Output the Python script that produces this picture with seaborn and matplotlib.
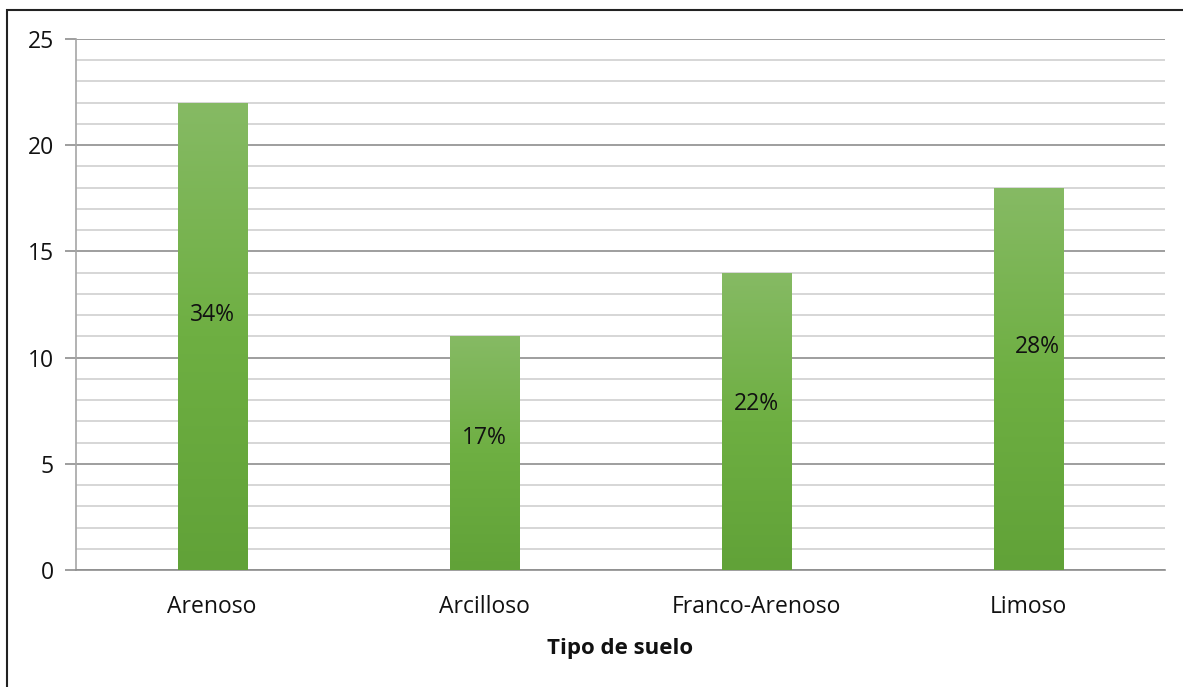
import numpy as np
import pandas as pd
import matplotlib
matplotlib.use("Agg")
import matplotlib.pyplot as plt
from matplotlib.patches import Rectangle
from matplotlib.colors import LinearSegmentedColormap
from matplotlib.ticker import MultipleLocator
import seaborn as sns

# Soil type counts and their share labels
categories = ["Arenoso", "Arcilloso", "Franco-Arenoso", "Limoso"]
counts = [22, 11, 14, 18]
share_labels = ["34%", "17%", "22%", "28%"]
label_heights = [12.0, 6.2, 7.8, 10.5]
label_offsets = [0.0, 0.0, 0.0, 0.03]

sns.set_theme(style="white")
plt.rcParams["font.family"] = ["Open Sans", "DejaVu Sans"]

fig = plt.figure(figsize=(11.83, 6.87), dpi=100)
ax = fig.add_axes([76 / 1183, 1 - 570 / 687, (1165 - 76) / 1183, (570 - 39) / 687])

df = pd.DataFrame({"tipo": categories, "n": counts})
sns.barplot(data=df, x="tipo", y="n", ax=ax, width=0.254, color="#6fae45",
            saturation=1, edgecolor="none", zorder=3)

# vertical green gradient inside each bar
cmap = LinearSegmentedColormap.from_list("g", ["#61a238", "#6eaf42", "#86ba64"])
grad = np.linspace(0, 1, 256).reshape(-1, 1)
for p in ax.patches:
    x0, y0 = p.get_x(), p.get_y()
    w, h = p.get_width(), p.get_height()
    im = ax.imshow(grad, cmap=cmap, aspect="auto", origin="lower",
                   extent=[x0, x0 + w, y0, y0 + h], zorder=4)
    im.set_clip_path(p)

for i, (lab, yv, dx) in enumerate(zip(share_labels, label_heights, label_offsets)):
    ax.text(i + dx, yv, lab, ha="center", va="center", fontsize=16.5,
            color="#111111", zorder=6)

ax.set_xlim(-0.5, 3.5)
ax.set_ylim(0, 25)
ax.yaxis.set_major_locator(MultipleLocator(5))
ax.yaxis.set_minor_locator(MultipleLocator(1))
ax.grid(axis="y", which="minor", color="#d0d0d0", linewidth=1.2, zorder=0)
ax.grid(axis="y", which="major", color="#8e8e8e", linewidth=1.2, zorder=1)
ax.set_axisbelow(True)

for s in ["top", "right"]:
    ax.spines[s].set_visible(False)
ax.spines["left"].set_color("#a6a6a6")
ax.spines["bottom"].set_color("#8e8e8e")
ax.spines["left"].set_linewidth(1.2)
ax.spines["bottom"].set_linewidth(1.2)

ax.tick_params(axis="y", which="major", length=8, width=1.2, color="#8e8e8e",
               labelsize=16.5, pad=8, left=True)
ax.tick_params(axis="y", which="minor", length=0)
ax.tick_params(axis="x", length=0, labelsize=16.5, pad=18)
for t in ax.get_yticklabels() + ax.get_xticklabels():
    t.set_color("#111111")

ax.set_ylabel("")
ax.set_xlabel("Tipo de suelo", fontsize=16, fontweight="bold", color="#111111",
              labelpad=14)

# outer frame of the chart
fig.patches.append(Rectangle((7 / 1183, -0.05), 1.2, 1 - 10 / 687 + 0.05,
                             transform=fig.transFigure, fill=False,
                             edgecolor="#222222", linewidth=1.5))

fig.savefig("out.png", dpi=100)
